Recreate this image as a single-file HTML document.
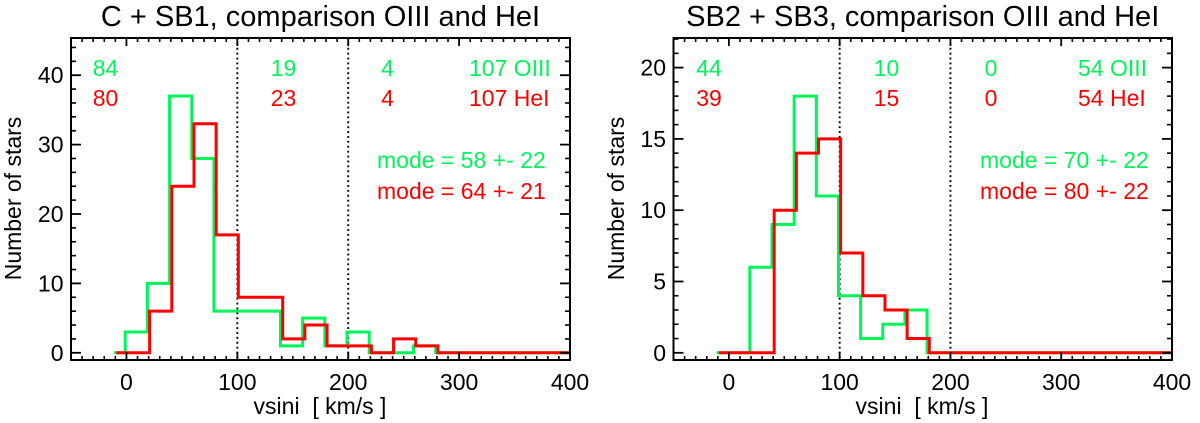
<!DOCTYPE html>
<html lang="en">
<head>
<meta charset="utf-8">
<title>vsini histograms</title>
<style>
html,body{margin:0;padding:0;background:#fff;}
svg{display:block;font-family:"Liberation Sans",Arial,sans-serif;}
text{fill:#000;font-size:23px;}
.g{fill:#00f558;}
.r{fill:#ff0000;}
.title{font-size:29px;}
</style>
</head>
<body>
<svg id="figure" width="1200" height="423" viewBox="0 0 1200 423" xmlns="http://www.w3.org/2000/svg">
<g id="panel-left">
<text class="title" x="320.5" y="26" text-anchor="middle">C + SB1, comparison OIII and HeI</text>
<text x="320" y="414" text-anchor="middle" xml:space="preserve" style="white-space:pre">vsini  [ km/s ]</text>
<text transform="translate(21,198.5) rotate(-90)" text-anchor="middle">Number of stars</text>
<text class="g" x="105.5" y="76" text-anchor="middle">84</text>
<text class="r" x="105.5" y="106" text-anchor="middle">80</text>
<text class="g" x="283.5" y="76" text-anchor="middle">19</text>
<text class="r" x="283.5" y="106" text-anchor="middle">23</text>
<text class="g" x="387.5" y="76" text-anchor="middle">4</text>
<text class="r" x="387.5" y="106" text-anchor="middle">4</text>
<text class="g" x="469" y="76">107 OIII</text>
<text class="r" x="469" y="106">107 HeI</text>
<text class="g" x="377" y="168">mode = 58 +- 22</text>
<text class="r" x="377" y="199">mode = 64 +- 21</text>
</g>
<g id="panel-right">
<text class="title" x="922.7" y="26" text-anchor="middle">SB2 + SB3, comparison OIII and HeI</text>
<text x="922" y="414" text-anchor="middle" xml:space="preserve" style="white-space:pre">vsini  [ km/s ]</text>
<text transform="translate(624,198.5) rotate(-90)" text-anchor="middle">Number of stars</text>
<text class="g" x="709" y="76" text-anchor="middle">44</text>
<text class="r" x="709" y="106" text-anchor="middle">39</text>
<text class="g" x="886.5" y="76" text-anchor="middle">10</text>
<text class="r" x="886.5" y="106" text-anchor="middle">15</text>
<text class="g" x="991" y="76" text-anchor="middle">0</text>
<text class="r" x="991" y="106" text-anchor="middle">0</text>
<text class="g" x="1078" y="76">54 OIII</text>
<text class="r" x="1078" y="106">54 HeI</text>
<text class="g" x="980" y="168">mode = 70 +- 22</text>
<text class="r" x="980" y="199">mode = 80 +- 22</text>
</g>
</svg>
<script>
// Histogram bins: a count for each 20 km/s bin starting at binStart
const binStart = 0;
const binWidth = 20;
const leadIn = -10;
const xEnd = 400;
const xTickLabels = [0, 100, 200, 300, 400];
const referenceLines = [100, 200];

const leftOiii = [3, 10, 37, 28, 6, 6, 6, 1, 5, 1, 3, 0, 0, 1, 0];
const leftHei = [0, 6, 24, 33, 17, 8, 8, 2, 4, 1, 1, 0, 2, 1, 0];
const leftYTicks = [0, 10, 20, 30, 40];

const rightOiii = [0, 6, 9, 18, 11, 4, 1, 2, 3, 0];
const rightHei = [0, 0, 10, 14, 15, 7, 4, 3, 1, 0];
const rightYTicks = [0, 5, 10, 15, 20];

const NS = 'http://www.w3.org/2000/svg';

function makeLine(parent, x1, y1, x2, y2, w) {
  const l = document.createElementNS(NS, 'line');
  l.setAttribute('x1', x1);
  l.setAttribute('y1', y1);
  l.setAttribute('x2', x2);
  l.setAttribute('y2', y2);
  l.setAttribute('stroke', '#000');
  l.setAttribute('stroke-width', w);
  parent.appendChild(l);
  return l;
}

function makeLabel(parent, x, y, anchor, str) {
  const t = document.createElementNS(NS, 'text');
  t.setAttribute('x', x);
  t.setAttribute('y', y);
  t.setAttribute('text-anchor', anchor);
  t.textContent = str;
  parent.appendChild(t);
  return t;
}

function drawPanel(p) {
  const root = document.getElementById(p.id);
  const sx = v => p.x0 + (v - p.xMin) * (p.x1 - p.x0) / (xEnd - p.xMin);
  const sy = v => p.yZero - v * p.yScale;

  // reference lines
  referenceLines.forEach(v => {
    const d = makeLine(root, sx(v), p.top, sx(v), p.bottom, 1.9);
    d.setAttribute('stroke-dasharray', '1.9 3');
    
    
  });

  // histograms
  function step(values, dx, color, name) {
    const pts = [[sx(leadIn) + dx, sy(0)], [sx(binStart) + dx, sy(0)]];
    values.forEach((c, i) => {
      const a = binStart + i * binWidth;
      const b = i === values.length - 1 ? xEnd : a + binWidth;
      pts.push([sx(a) + dx, sy(c)]);
      pts.push([Math.min(sx(b) + dx, p.x1), sy(c)]);
    });
    const s = document.createElementNS(NS, 'polyline');
    s.setAttribute('points', pts.map(q => q[0].toFixed(2) + ',' + q[1].toFixed(2)).join(' '));
    s.setAttribute('fill', 'none');
    s.setAttribute('stroke', color);
    s.setAttribute('stroke-width', '3');
    s.setAttribute('stroke-linejoin', 'miter');
    
    
    root.appendChild(s);
  }
  step(p.oiii, -1.2, '#00f558', 'oiii-histogram');
  step(p.hei, 1, '#ff0000', 'hei-histogram');

  // axes frame
  const axes = document.createElementNS(NS, 'g');
  
  
  root.appendChild(axes);
  const frame = document.createElementNS(NS, 'rect');
  frame.setAttribute('x', p.x0);
  frame.setAttribute('y', p.top);
  frame.setAttribute('width', p.x1 - p.x0);
  frame.setAttribute('height', p.bottom - p.top);
  frame.setAttribute('fill', 'none');
  frame.setAttribute('stroke', '#000');
  frame.setAttribute('stroke-width', '2');
  
  
  axes.appendChild(frame);

  // x ticks (minor every 10 km/s)
  for (let v = -50; v <= 400; v += 10) {
    const major = v % 100 === 0;
    const len = major ? 8 : 4;
    const w = major ? 1.8 : 1.6;
    makeLine(axes, sx(v), p.bottom, sx(v), p.bottom - len, w);
    makeLine(axes, sx(v), p.top, sx(v), p.top + len, w);
  }
  xTickLabels.forEach(v => {
    const t = makeLabel(axes, sx(v), 390, 'middle', String(v));
    
    
  });

  // y ticks
  const yTop = (p.yZero - p.top) / p.yScale;
  for (let v = 0; v <= yTop; v += p.yMinor) {
    const major = v % p.yMajor === 0;
    const len = major ? 10 : 5;
    const w = major ? 1.8 : 1.6;
    makeLine(axes, p.x0, sy(v), p.x0 + len, sy(v), w);
    makeLine(axes, p.x1, sy(v), p.x1 - len, sy(v), w);
  }
  p.yTicks.forEach(v => {
    const t = makeLabel(axes, p.x0 - 7.5, sy(v) + 8, 'end', String(v));
    
    
  });
}

drawPanel({
  id: 'panel-left', x0: 71, x1: 570, xMin: -50, top: 38, bottom: 360,
  yZero: 352.8, yScale: 6.94, yMinor: 2, yMajor: 10,
  yTicks: leftYTicks, oiii: leftOiii, hei: leftHei
});
drawPanel({
  id: 'panel-right', x0: 673.5, x1: 1172, xMin: -50, top: 38, bottom: 360,
  yZero: 352.8, yScale: 14.26, yMinor: 1, yMajor: 5,
  yTicks: rightYTicks, oiii: rightOiii, hei: rightHei
});
</script>
</body>
</html>
